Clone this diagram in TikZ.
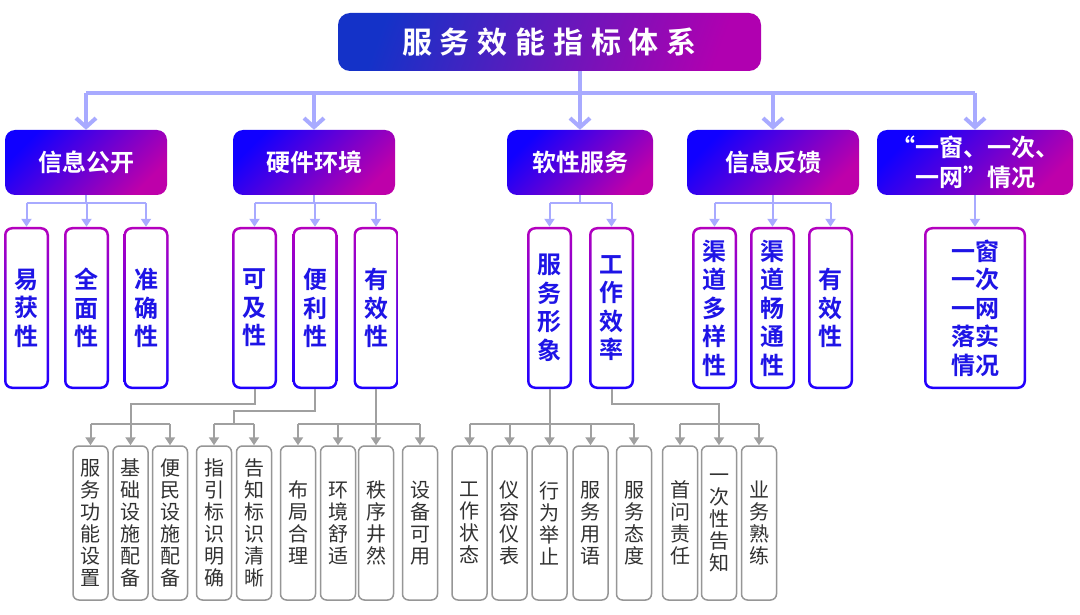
\documentclass[tikz,border=0pt]{standalone}
\usepackage{fontspec}
\usetikzlibrary{arrows.meta}
\newfontfamily\cjk{Noto Sans CJK SC}
\newfontfamily\cjkb{Noto Sans CJK SC Bold}
\newfontfamily\cjkt[LetterSpace=26]{Noto Sans CJK SC Bold}
\definecolor{titleblue}{RGB}{20,50,200}
\definecolor{titlemag}{RGB}{176,0,176}
\definecolor{headblue}{RGB}{16,0,255}
\definecolor{headmag}{RGB}{190,0,170}
\definecolor{itemmag}{RGB}{180,0,190}
\definecolor{itemblue}{RGB}{30,0,255}
\definecolor{itemtext}{RGB}{30,20,230}
\definecolor{lavender}{RGB}{168,170,255}
\definecolor{lineg}{RGB}{160,160,160}
\definecolor{boxg}{RGB}{150,150,150}
\definecolor{textg}{RGB}{50,50,50}

\begin{document}
\begin{tikzpicture}[x=1pt, y=-1pt,
        title/.style={rounded corners=12pt, left color=titleblue, right color=titlemag, shading angle=70,
                minimum width=423pt, minimum height=58pt, inner sep=0pt, text=white,
                font=\cjkt\fontsize{30}{36}\selectfont},
        head/.style={rounded corners=10pt, top color=headblue, bottom color=headmag, shading angle=45,
                minimum height=65pt, inner sep=0pt, align=center, text=white,
                font=\cjkb\fontsize{24}{30}\selectfont},
        item/.style={rounded corners=8pt, top color=itemmag, bottom color=itemblue,
                minimum width=45pt, minimum height=162pt, inner sep=0pt, align=center, text=itemtext,
                font=\cjkb\fontsize{24}{28.5}\selectfont,
                path picture={\fill[white, rounded corners=6pt]
                        ([shift={(2.5pt,2.5pt)}]path picture bounding box.south west) rectangle
                        ([shift={(-2.5pt,-2.5pt)}]path picture bounding box.north east);}},
        leaf/.style={draw=boxg, line width=1.5pt, rounded corners=6pt, fill=white,
                minimum width=35pt, minimum height=154pt, inner sep=0pt, align=center, text=textg,
                font=\cjk\fontsize{20}{22}\selectfont},
        bigline/.style={draw=lavender, line width=4pt},
        bigarrow/.style={draw=lavender, line width=4pt, -{Straight Barb[length=9pt,width=20pt]}},
        smallline/.style={draw=lavender, line width=2pt},
        smallarrow/.style={draw=lavender, line width=2pt, -{Triangle[length=8pt,width=10pt]}},
        grayline/.style={draw=lineg, line width=2pt},
        grayarrow/.style={draw=lineg, line width=2pt, -{Triangle[length=8pt,width=10pt]}}]

    \fill[white] (0,0) rectangle (1080,615);
    \useasboundingbox (0,0) rectangle (1080,615);

    \node[title] (sys) at (549.5,42) {服务效能指标体系};

    \node[head, minimum width=162pt] (info) at (86,162.5) {信息公开};
    \node[head, minimum width=162pt] (hard) at (314,162.5) {硬件环境};
    \node[head, minimum width=146pt] (soft) at (580,162.5) {软性服务};
    \node[head, minimum width=172pt] (feed) at (773,162.5) {信息反馈};
    \node[head, minimum width=196pt] (once) at (975,162.5) {“一窗、一次、\\一网”情况};

    \node[item] (easy) at (26.5,308) {易\\获\\性};
    \node[item] (full) at (86.5,308) {全\\面\\性};
    \node[item] (exact) at (146,308) {准\\确\\性};
    \node[item] (reach) at (254.5,308) {可\\及\\性};
    \node[item] (handy) at (315,308) {便\\利\\性};
    \node[item] (valid) at (376,308) {有\\效\\性};
    \node[item] (image) at (549.5,308) {服\\务\\形\\象};
    \node[item] (speed) at (611.5,308) {工\\作\\效\\率};
    \node[item] (multi) at (714.5,308) {渠\\道\\多\\样\\性};
    \node[item] (smooth) at (772.5,308) {渠\\道\\畅\\通\\性};
    \node[item] (validb) at (830.5,308) {有\\效\\性};
    \node[item, minimum width=102pt] (onenet) at (975,308) {一窗\\一次\\一网\\落实\\情况};

    \node[leaf] (func) at (90.5,523) {服\\务\\功\\能\\设\\置};
    \node[leaf] (basic) at (130.5,523) {基\\础\\设\\施\\配\\备};
    \node[leaf] (civil) at (170,523) {便\\民\\设\\施\\配\\备};
    \node[leaf] (guide) at (214,523) {指\\引\\标\\识\\明\\确};
    \node[leaf] (notice) at (254,523) {告\\知\\标\\识\\清\\晰};
    \node[leaf] (layout) at (298,523) {布\\局\\合\\理};
    \node[leaf] (env) at (338,523) {环\\境\\舒\\适};
    \node[leaf] (order) at (376,523) {秩\\序\\井\\然};
    \node[leaf] (equip) at (420,523) {设\\备\\可\\用};
    \node[leaf] (state) at (469.5,523) {工\\作\\状\\态};
    \node[leaf] (dress) at (509.5,523) {仪\\容\\仪\\表};
    \node[leaf] (manner) at (549.5,523) {行\\为\\举\\止};
    \node[leaf] (speech) at (590.5,523) {服\\务\\用\\语};
    \node[leaf] (attitude) at (634,523) {服\\务\\态\\度};
    \node[leaf] (firstq) at (680,523) {首\\问\\责\\任};
    \node[leaf] (onceinf) at (719,523) {一\\次\\性\\告\\知};
    \node[leaf] (skill) at (759,523) {业\\务\\熟\\练};

    \coordinate (bar) at (0,93);
    \coordinate (sub) at (0,203);
    \coordinate (low) at (0,424);
    \coordinate (handyjoin) at (234,424);

    \draw[bigline] (info.north |- bar) -- (once.north |- bar);
    \draw[bigarrow] (sys.south -| soft.north) -- (soft.north);
    \foreach \n in {info,hard,feed,once}
        \draw[bigarrow] (\n.north |- bar) -- (\n.north);

    \draw[smallline] (info.south) -- (info.south |- sub);
    \draw[smallline] (easy.north |- sub) -- (exact.north |- sub);
    \draw[smallline] (hard.south) -- (hard.south |- sub);
    \draw[smallline] (reach.north |- sub) -- (valid.north |- sub);
    \draw[smallline] (soft.south) -- (soft.south |- sub);
    \draw[smallline] (image.north |- sub) -- (speed.north |- sub);
    \draw[smallline] (feed.south) -- (feed.south |- sub);
    \draw[smallline] (multi.north |- sub) -- (validb.north |- sub);
    \foreach \n in {easy,full,exact,reach,handy,valid,image,speed,multi,smooth,validb}
        \draw[smallarrow] (\n.north |- sub) -- (\n.north);
    \draw[smallarrow] (once.south) -- (once.south |- onenet.north);

    \draw[grayline] (reach.south) -- ++(0,15) -| (basic.north |- low);
    \draw[grayline] (func.north |- low) -- (civil.north |- low);
    \draw[grayline] (handy.south) -- ++(0,22) -| (handyjoin);
    \draw[grayline] (guide.north |- low) -- (notice.north |- low);
    \draw[grayline] (valid.south) -- (valid.south |- low);
    \draw[grayline] (layout.north |- low) -- (equip.north |- low);
    \draw[grayline] (image.south) -- (image.south |- low);
    \draw[grayline] (state.north |- low) -- (attitude.north |- low);
    \draw[grayline] (speed.south) -- ++(0,15) -| (onceinf.north |- low);
    \draw[grayline] (firstq.north |- low) -- (skill.north |- low);
    \foreach \n in {func,basic,civil,guide,notice,layout,env,order,equip,state,dress,manner,speech,attitude,firstq,onceinf,skill}
        \draw[grayarrow] (\n.north |- low) -- (\n.north);
\end{tikzpicture}
\end{document}
